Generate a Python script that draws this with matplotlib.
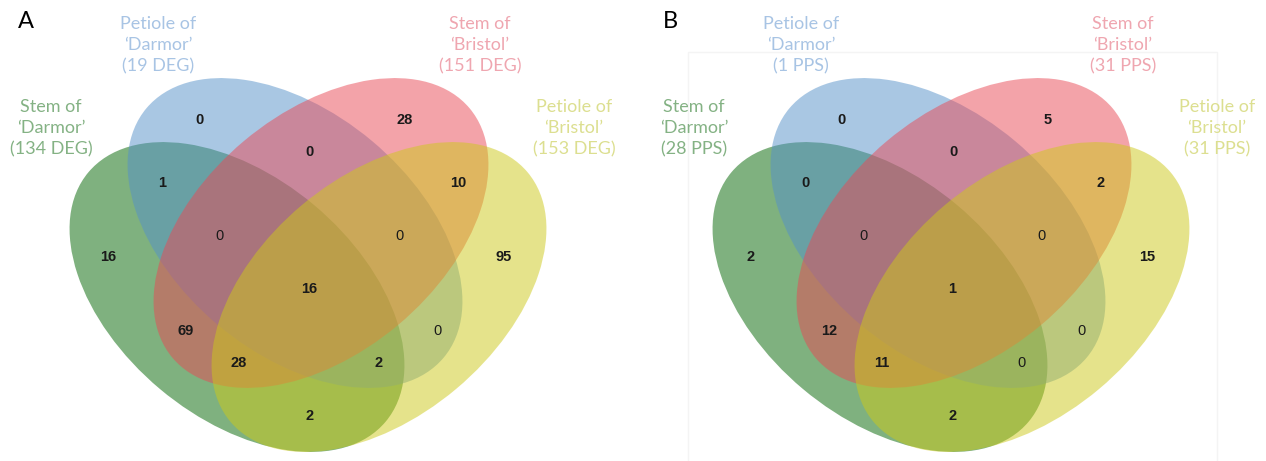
import matplotlib
matplotlib.use("Agg")
import matplotlib.pyplot as plt
from matplotlib.patches import Ellipse, Rectangle

# --- datos ---
panel_letters = ["A", "B"]
set_names = ["Stem of\n‘Darmor’", "Petiole of\n‘Darmor’", "Stem of\n‘Bristol’", "Petiole of\n‘Bristol’"]
deg_totals = [134, 19, 151, 153]
pps_totals = [28, 1, 31, 31]
units = ["DEG", "PPS"]

# regions: b, r, b∩r, g∩b, r∩y, g∩b∩r, b∩r∩y, g, y, all, g∩r, b∩y, g∩r∩y, g∩b∩y, g∩y
deg_regions = [0, 28, 0, 1, 10, 0, 0, 16, 95, 16, 69, 0, 28, 2, 2]
pps_regions = [0, 5, 0, 0, 2, 0, 0, 2, 15, 1, 12, 0, 11, 0, 2]

# --- estilo / layout ---
fill_colors = ["#006400", "#5591c9", "#e94955", "#cdc919"]   # green, blue, red, yellow
label_colors = ["#84b284", "#a8c4e4", "#efa6b0", "#dcdf90"]
panel_cx = [308, 951]
ell_a, ell_b, ell_ang = 194, 120, 40
ell_off = [(-71, 297, 1), (-13, 233, 1), (13, 233, -1), (71, 297, -1)]
label_pos = [(-257, 128), (-150, 45), (172, 45), (266, 128)]
region_pos = [(-109, 120), (97, 120), (2, 152), (-146, 183), (150, 183),
              (-88, 236), (91, 236), (-200, 257), (196, 257), (1, 289),
              (-122, 331), (130, 331), (-69, 363), (71, 363), (2, 416)]
regular_regions = [5, 6, 11, 13]

W, H = 1266, 461
fig = plt.figure(figsize=(W / 100, H / 100), dpi=100)
ax = fig.add_axes([0, 0, 1, 1])
ax.set_xlim(0, W)
ax.set_ylim(H, 0)
ax.axis("off")

# caja tenue del panel B
ax.add_patch(Rectangle((688, 52), 529, 420, fill=False, edgecolor="#f4f4f4", lw=1))

label_fs = 13
for p, (letter, totals, regions, unit) in enumerate(
        zip(panel_letters, [deg_totals, pps_totals], [deg_regions, pps_regions], units)):
    cx = panel_cx[p]
    for (dx, cy, sgn), col in zip(ell_off, fill_colors):
        ax.add_patch(Ellipse((cx + dx, cy), 2 * ell_a, 2 * ell_b, angle=sgn * ell_ang,
                             facecolor=col, alpha=0.5, lw=0))
    for name, tot, (dx, y), col in zip(set_names, totals, label_pos, label_colors):
        ax.text(cx + dx, y, f"{name}\n({tot} {unit})", ha="center", va="center",
                color=col, fontsize=label_fs, family="Lato",
                linespacing=25 / (label_fs * 100 / 72))
    for i, (val, (dx, y)) in enumerate(zip(regions, region_pos)):
        bold = not (i in regular_regions and val == 0)
        ax.text(cx + dx, y, str(val), ha="center", va="center", fontsize=10.5,
                family="Liberation Sans", fontweight="bold" if bold else "normal",
                color="#1a1a1a")
    ax.text(cx - 290 + (0 if p == 0 else 2), 22, letter, ha="left", va="center",
            fontsize=17, family="Lato", color="black")

fig.savefig("out.png", dpi=100)
